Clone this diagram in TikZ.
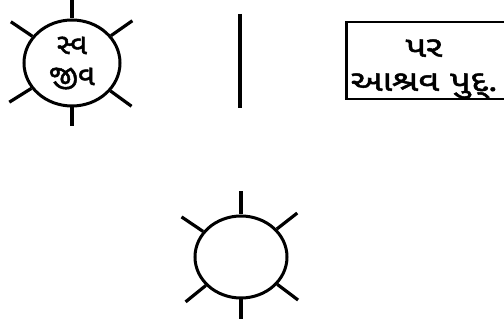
\documentclass[tikz,border=0pt]{standalone}
\usepackage{fontspec}
\newfontfamily\gujfont[Script=Gujarati, AutoFakeBold=1.6]{Noto Sans Gujarati UI}
\usetikzlibrary{shapes.geometric, positioning}
\tikzset{
  every picture/.append style = {line width=3pt, x=1pt, y=1pt},
  sunbody/.style = {ellipse, draw, line width=3pt, inner sep=0pt,
                    minimum width=96pt, minimum height=86pt},
  sunray/.style  = {line width=3.2pt},
  gtxt/.style    = {font=\gujfont\bfseries\fontsize{29}{32}\selectfont, align=center},
  parbox/.style  = {draw, line width=2.6pt, minimum width=230pt,
                    minimum height=77pt, inner sep=0pt},
}

\begin{document}
\begin{tikzpicture}
  \useasboundingbox (0,0) rectangle (504,327);
  \clip (0,0) rectangle (504,327);
  % own soul, upper left
  \node[sunbody, gtxt] (svajiv) at (72,264) {સ્વ\\[-1pt]જીવ};
  \foreach \ang/\len in {90/22, 35/26, 146/26, 212/26, 324/26, 270/19}
    \draw[sunray] (svajiv.\ang) -- ++(\ang:\len);
  % dividing line
  \coordinate (divtop) at (240,313);
  \coordinate (divbot) at (240,219);
  \draw[line width=3.4pt] (divtop) -- (divbot);
  % foreign matter box, running off the right edge
  \node[parbox, anchor=west] (parpud) at (345,266.5) {};
  \node[gtxt, xscale=1.25] (partxt) at (424,258) {પર\\[2pt]આશ્રવ પુદ્.};
  % empty soul, bottom
  \node[sunbody, minimum width=92pt, minimum height=82pt] (khali) at (241,70) {};
  \foreach \ang/\len in {90/23, 38/26, 146/26, 219/26, 323/26, 270/20}
    \draw[sunray] (khali.\ang) -- ++(\ang:\len);
\end{tikzpicture}
\end{document}
